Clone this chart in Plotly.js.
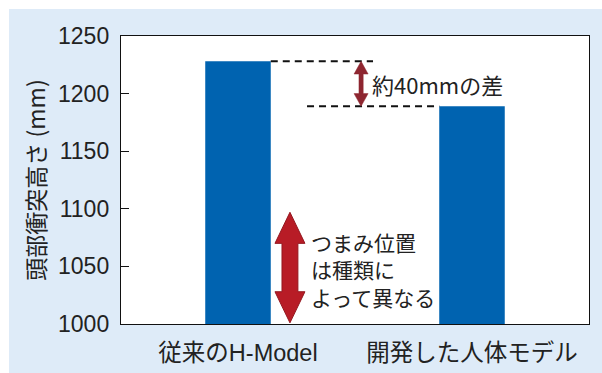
<!DOCTYPE html>
<html><head><meta charset="utf-8">
<script src="https://cdn.plot.ly/plotly-3.0.1.min.js"></script>
<style>
html,body{margin:0;padding:0;background:#fff;}
#chart{position:absolute;left:9px;top:9px;width:593px;height:364px;}
</style></head>
<body><div id="chart"></div>
<script>
const categories = ["従来のH-Model", "開発した人体モデル"];
const values = [1228, 1189];
const yTicks = [1000, 1050, 1100, 1150, 1200, 1250];
const diffLabel = "約40mmの差";
const noteLabel = "つまみ位置<br>は種類に<br>よって異なる";
const yTitle = "頭部衝突高さ (mm)";

const BAR_W = 0.28;
// category-axis units -> paper fraction (axis range is [-0.5, n-0.5])
const toPaper = x => (x + 0.5) / categories.length;

const xa0 = toPaper(0 + BAR_W / 2), xa1 = toPaper(0.577);
const xb0 = toPaper(0.295), xb1 = toPaper(1 - BAR_W / 2);
const ax = toPaper(0.526);     // small arrow x
const bigX = toPaper(0.222);   // big arrow x

function dblArrow(xc, yTop, yBot, headH, headHalf, shaftHalf) {
  return `M ${xc} ${yTop} L ${xc + headHalf} ${yTop - headH} L ${xc + shaftHalf} ${yTop - headH} ` +
         `L ${xc + shaftHalf} ${yBot + headH} L ${xc + headHalf} ${yBot + headH} L ${xc} ${yBot} ` +
         `L ${xc - headHalf} ${yBot + headH} L ${xc - shaftHalf} ${yBot + headH} L ${xc - shaftHalf} ${yTop - headH} ` +
         `L ${xc - headHalf} ${yTop - headH} Z`;
}

const shapes = [
  {type:'line', xref:'paper', yref:'y', x0:xa0, x1:xa1, y0:values[0], y1:values[0],
   line:{color:'#111', width:2, dash:'7px,5px'}},
  {type:'line', xref:'paper', yref:'y', x0:xb0, x1:xb1, y0:values[1], y1:values[1],
   line:{color:'#111', width:2, dash:'7px,5px'}},
  {type:'path', xref:'paper', yref:'y', path:dblArrow(ax, values[0], values[1], 11, 0.015, 0.0045),
   fillcolor:'#8e2630', line:{color:'#8e2630', width:0.5}},
  {type:'path', xref:'paper', yref:'y', path:dblArrow(bigX, 1097, 1001, 27, 0.032, 0.017),
   fillcolor:'#b81c26', line:{color:'#951820', width:1}}
];

const annotations = [
  {xref:'paper', yref:'y', x:ax + 0.02, y:(values[0] + values[1]) / 2, text:diffLabel, showarrow:false,
   xanchor:'left', yanchor:'middle', font:{family:'Noto Sans CJK JP', size:22, color:'#222'}},
  {xref:'paper', yref:'y', x:bigX + 0.04, y:1047, text:noteLabel, showarrow:false, align:'left',
   xanchor:'left', yanchor:'middle', font:{family:'Noto Sans CJK JP', size:21, color:'#222'}}
];

const data = [{type:'bar', x:categories, y:values, width:BAR_W, marker:{color:'#0063b0'}, hoverinfo:'none'}];

const layout = {
  width:593, height:364,
  paper_bgcolor:'#deebf8', plot_bgcolor:'#ffffff',
  margin:{l:112, r:13, t:27, b:49},
  showlegend:false,
  font:{family:'Liberation Sans, Noto Sans CJK JP', color:'#222'},
  xaxis:{type:'category', range:[-0.5, 1.5], showline:true, mirror:true, linecolor:'#111', linewidth:1.2,
         ticks:'', showgrid:false, fixedrange:true,
         tickfont:{family:'Liberation Sans, Noto Sans CJK JP', size:23.5, color:'#222'}, ticklabelstandoff:8},
  yaxis:{range:[1000, 1250], tickvals:yTicks, ticktext:yTicks.map(String), showline:true, mirror:true,
         linecolor:'#111', linewidth:1.2, ticks:'inside', ticklen:8, tickcolor:'#111', showgrid:false,
         zeroline:false, tickfont:{family:'Liberation Sans', size:23, color:'#222'}, ticklabelstandoff:6,
         title:{text:yTitle, font:{family:'Noto Sans CJK JP', size:23, color:'#222'}, standoff:6}},
  shapes:shapes, annotations:annotations
};

Plotly.newPlot('chart', data, layout, {staticPlot:true, displayModeBar:false});
</script></body></html>
